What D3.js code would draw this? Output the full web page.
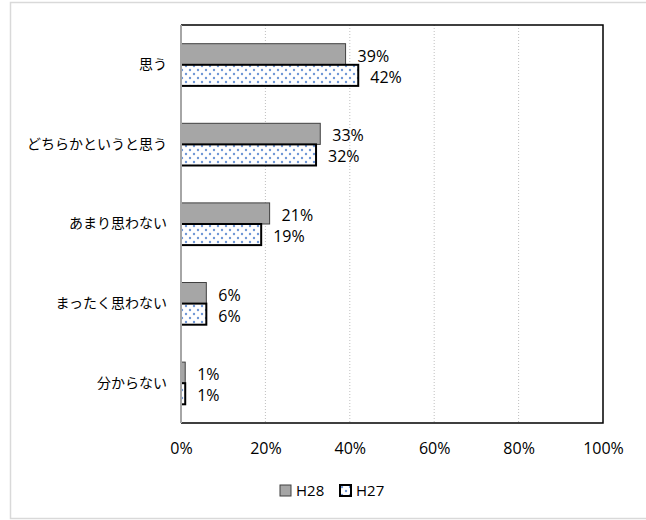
<!DOCTYPE html>
<html>
<head>
<meta charset="utf-8">
<script src="https://cdn.jsdelivr.net/npm/d3@7"></script>
<style>
  body { margin: 0; background: #fff; }
  svg text { font-family: "Open Sans", "Noto Sans CJK JP", sans-serif; }
</style>
</head>
<body>
<svg width="646" height="520"></svg>
<script>
var categories = ["思う", "どちらかというと思う", "あまり思わない", "まったく思わない", "分からない"];
var seriesNames = ["H28", "H27"];
var h28 = [39, 33, 21, 6, 1];
var h27 = [42, 32, 19, 6, 1];
var tickValues = [0, 20, 40, 60, 80, 100];

var svg = d3.select("svg");
var plotLeft = 181, plotRight = 603, plotTop = 25, plotBottom = 423;

// outer chart border
svg.append("rect")
    .attr("x", 10.5).attr("y", 2.5)
    .attr("width", 640).attr("height", 516)
    .attr("fill", "none").attr("stroke", "#d9d9d9").attr("stroke-width", 1.5);

// dotted pattern for H27
var defs = svg.append("defs");
var pat = defs.append("pattern")
    .attr("id", "dots").attr("patternUnits", "userSpaceOnUse")
    .attr("width", 8).attr("height", 8);
pat.append("rect").attr("width", 8).attr("height", 8).attr("fill", "#fff");
pat.append("circle").attr("cx", 2).attr("cy", 2).attr("r", 1.2).attr("fill", "#6f97d6");
pat.append("circle").attr("cx", 6).attr("cy", 6).attr("r", 1.2).attr("fill", "#6f97d6");

var x = d3.scaleLinear().domain([0, 100]).range([plotLeft, plotRight]);
var y = d3.scaleBand().domain(categories).range([plotTop, plotBottom]).paddingInner(0.47).paddingOuter(0.235);
var ySub = d3.scaleBand().domain(seriesNames).range([0, y.bandwidth()]);

// gridlines
svg.append("g").selectAll("line")
    .data(tickValues.slice(1, -1))
    .enter().append("line")
    .attr("x1", function (d) { return x(d); })
    .attr("x2", function (d) { return x(d); })
    .attr("y1", plotTop).attr("y2", plotBottom)
    .attr("stroke", "#bfbfbf").attr("stroke-dasharray", "1,2");

// plot frame: top, right, bottom black
svg.append("path")
    .attr("d", "M" + plotLeft + "," + plotTop + "H" + plotRight + "V" + plotBottom + "H" + plotLeft)
    .attr("fill", "none").attr("stroke", "#000").attr("stroke-width", 1.5);

var rows = categories.map(function (c, i) {
    return [{ c: c, s: "H28", v: h28[i] }, { c: c, s: "H27", v: h27[i] }];
});
var data = [].concat.apply([], rows);

svg.append("g").selectAll("rect")
    .data(data)
    .enter().append("rect")
    .attr("x", x(0))
    .attr("y", function (d) { return y(d.c) + ySub(d.s); })
    .attr("width", function (d) { return x(d.v) - x(0); })
    .attr("height", ySub.bandwidth())
    .attr("fill", function (d) { return d.s === "H28" ? "#a6a6a6" : "url(#dots)"; })
    .attr("stroke", function (d) { return d.s === "H28" ? "#404040" : "#000"; })
    .attr("stroke-width", function (d) { return d.s === "H28" ? 1 : 2; });

// value labels
svg.append("g").selectAll("text")
    .data(data)
    .enter().append("text")
    .attr("x", function (d) { return x(d.v) + 12; })
    .attr("y", function (d) { return y(d.c) + ySub(d.s) + ySub.bandwidth() / 2 + 7.5; })
    .attr("font-size", 16).attr("fill", "#000")
    .text(function (d) { return d.v + "%"; });

// left axis line (gray)
svg.append("line")
    .attr("x1", plotLeft).attr("x2", plotLeft).attr("y1", plotTop).attr("y2", plotBottom)
    .attr("stroke", "#a6a6a6").attr("stroke-width", 2);

// category labels
var yAxis = d3.axisLeft(y).tickSize(0).tickPadding(14);
var gy = svg.append("g").attr("transform", "translate(" + plotLeft + ",0)").call(yAxis);
gy.select(".domain").remove();
gy.selectAll("text").attr("font-size", 14).attr("fill", "#000")
    .style("font-family", "'Noto Sans CJK JP', sans-serif");

// x axis labels
var xAxis = d3.axisBottom(x).tickValues(tickValues).tickSize(0).tickPadding(20)
    .tickFormat(function (d) { return d + "%"; });
var gx = svg.append("g").attr("transform", "translate(0," + plotBottom + ")").call(xAxis);
gx.select(".domain").remove();
gx.selectAll("text").attr("font-size", 16).attr("fill", "#000")
    .style("font-family", "'Open Sans', sans-serif");

// legend
var legend = svg.append("g").attr("transform", "translate(280,485)");
var items = legend.selectAll("g").data(seriesNames).enter().append("g")
    .attr("transform", function (d, i) { return "translate(" + (i * 60) + ",0)"; });
items.append("rect")
    .attr("width", 11).attr("height", 11)
    .attr("fill", function (d) { return d === "H28" ? "#a6a6a6" : "url(#dots)"; })
    .attr("stroke", function (d) { return d === "H28" ? "#404040" : "#000"; })
    .attr("stroke-width", function (d) { return d === "H28" ? 1 : 2; });
items.append("text")
    .attr("x", 16).attr("y", 11)
    .attr("font-size", 15).attr("fill", "#000")
    .text(function (d) { return d; });
</script>
</body>
</html>
